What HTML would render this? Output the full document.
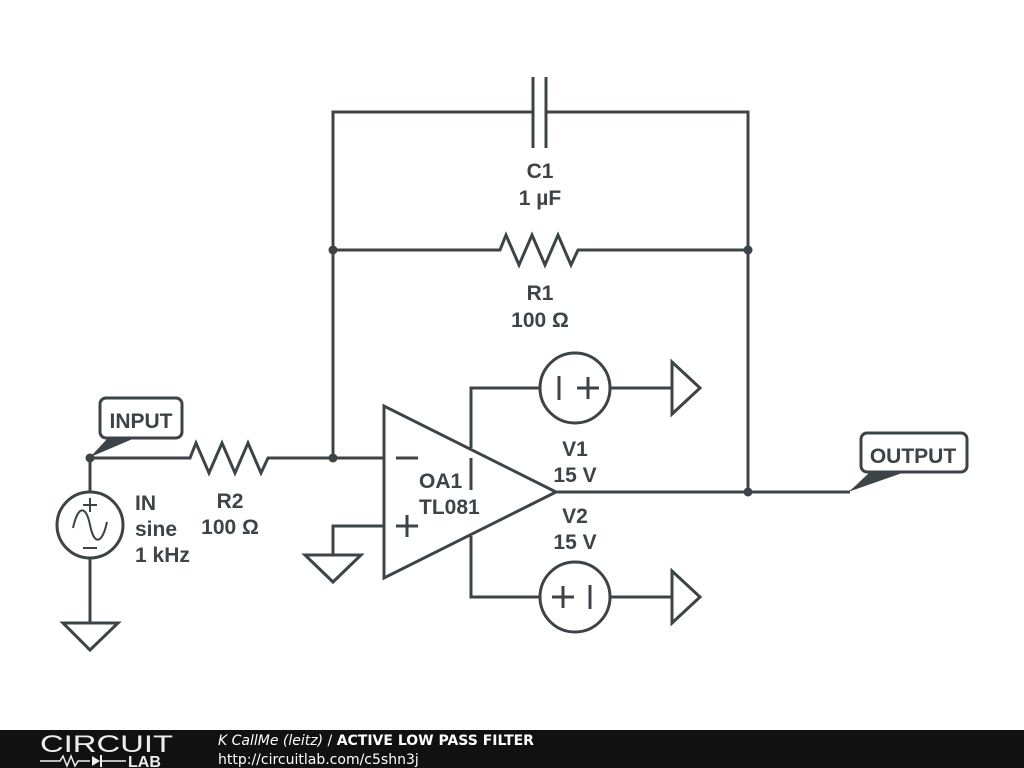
<!DOCTYPE html>
<html><head><style>
html,body{margin:0;padding:0;width:1024px;height:768px;background:#fff;overflow:hidden}
svg{display:block}
text{font-family:"Liberation Sans",sans-serif;font-weight:bold;fill:#3c4448}
</style></head><body>
<svg width="1024" height="768" viewBox="0 0 1024 768" xmlns="http://www.w3.org/2000/svg">
<g stroke="#3c4448" stroke-width="3" fill="none" stroke-linejoin="miter">
<polyline points="333,458 333,112 533,112"/>
<polyline points="546,112 748,112 748,492"/>
<line x1="533" y1="77" x2="533" y2="148"/>
<line x1="546" y1="77" x2="546" y2="148"/>
<polyline points="333,250 500,250 506,235 519,265 532,235 545,265 558,235 571,265 578,250 748,250"/>
<polyline points="90,458 190,458 196,443 209,473 222,443 235,473 248,443 261,473 268,458 384,458"/>
<polygon points="384,406 384,578 556,492"/>
<line x1="396" y1="458" x2="418" y2="458"/>
<line x1="396" y1="526" x2="418" y2="526"/><line x1="407" y1="515" x2="407" y2="537"/>
<line x1="471" y1="458" x2="471" y2="490"/>
<polyline points="471,448 471,388 540,388"/>
<polyline points="471,536 471,597 540,597"/>
<line x1="556" y1="492" x2="850" y2="492"/>
<circle cx="575" cy="388" r="35"/>
<line x1="559" y1="376" x2="559" y2="400"/>
<line x1="577" y1="388" x2="599" y2="388"/><line x1="588" y1="377" x2="588" y2="399"/>
<line x1="610" y1="388" x2="672" y2="388"/>
<polygon points="672,362 700,388 672,414"/>
<circle cx="575" cy="597" r="35"/>
<line x1="552" y1="597" x2="574" y2="597"/><line x1="563" y1="586" x2="563" y2="608"/>
<line x1="590" y1="585" x2="590" y2="609"/>
<line x1="610" y1="597" x2="672" y2="597"/>
<polygon points="672,571 700,597 672,623"/>
<polyline points="384,526 333,526 333,555"/>
<polygon points="305,555 361,555 333,582"/>
<line x1="90" y1="458" x2="90" y2="492"/>
<circle cx="90" cy="525" r="33"/>
<line x1="90" y1="558" x2="90" y2="623"/>
<polygon points="63,623 118,623 90,650"/>
<line x1="83" y1="505" x2="97" y2="505" stroke-width="2"/><line x1="90" y1="498" x2="90" y2="512" stroke-width="2"/>
<line x1="83" y1="548" x2="97" y2="548" stroke-width="2"/>
<path d="M73,528 C78,505 86,505 90,525 C94,545 102,545 107,522" stroke-width="2"/>
<rect x="100" y="398" width="82" height="40" rx="6" fill="#fff"/>
<rect x="861" y="433" width="106" height="39" rx="6" fill="#fff"/>
</g>
<g fill="#3c4448">
<polygon points="88,458 93,454 108,438 135,438"/>
<polygon points="848,492 853,488 870,472 905,472"/>
<circle cx="90" cy="458" r="4.5"/>
<circle cx="333" cy="458" r="4.5"/>
<circle cx="333" cy="250" r="4.5"/>
<circle cx="748" cy="250" r="4.5"/>
<circle cx="748" cy="492" r="4.5"/>
</g>
<g font-size="21">
<text x="141" y="428" text-anchor="middle">INPUT</text>
<text x="913" y="463" text-anchor="middle">OUTPUT</text>
<text x="540" y="178" text-anchor="middle">C1</text>
<text x="540" y="205" text-anchor="middle">1 µF</text>
<text x="540" y="300" text-anchor="middle">R1</text>
<text x="540" y="327" text-anchor="middle">100 Ω</text>
<text x="230" y="508" text-anchor="middle">R2</text>
<text x="230" y="534" text-anchor="middle">100 Ω</text>
<text x="135" y="510">IN</text>
<text x="135" y="536">sine</text>
<text x="135" y="562">1 kHz</text>
<text x="419" y="488">OA1</text>
<text x="419" y="514">TL081</text>
<text x="575" y="456" text-anchor="middle">V1</text>
<text x="575" y="482" text-anchor="middle">15 V</text>
<text x="575" y="523" text-anchor="middle">V2</text>
<text x="575" y="549" text-anchor="middle">15 V</text>
</g>
<rect x="0" y="730" width="1024" height="38" fill="#111"/>
<text x="40" y="752" font-size="24" style="fill:#eee;font-weight:normal" textLength="133" lengthAdjust="spacingAndGlyphs">CIRCUIT</text>
<polyline points="40,761 60,761 63,756 67,766 71,756 75,766 78,761 90,761" stroke="#eee" stroke-width="1.5" fill="none"/>
<polygon points="92,756 92,766 100,761" fill="#eee"/><line x1="101" y1="755" x2="101" y2="767" stroke="#eee" stroke-width="2"/>
<line x1="101" y1="761" x2="126" y2="761" stroke="#eee" stroke-width="1.5"/>
<text x="128" y="767" font-size="16" style="fill:#eee">LAB</text>
<text x="218" y="745" font-size="14" style="fill:#fff;font-weight:normal;font-style:italic;font-family:'DejaVu Sans',sans-serif">K CallMe (leitz) <tspan style="font-style:normal">/</tspan> <tspan style="font-weight:bold;font-style:normal">ACTIVE LOW PASS FILTER</tspan></text>
<text x="218" y="764" font-size="14" style="fill:#fff;font-weight:normal;font-family:'DejaVu Sans',sans-serif">http://circuitlab.com/c5shn3j</text>
</svg>
</body></html>
